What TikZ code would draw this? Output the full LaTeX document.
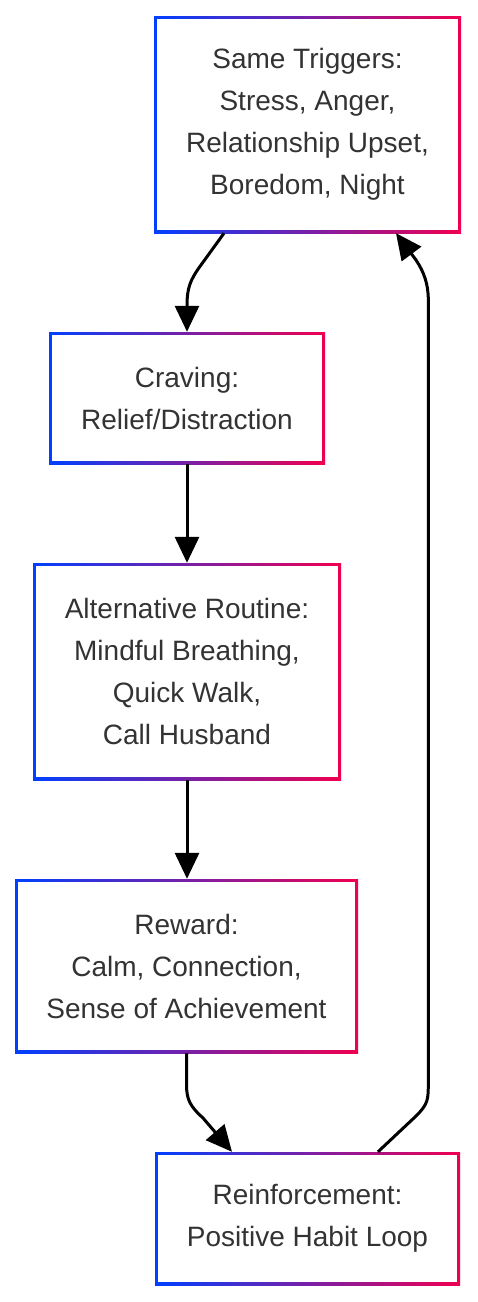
\documentclass[tikz,border=0pt]{standalone}
\usepackage{fontspec}
\setmainfont{Liberation Sans}
\usetikzlibrary{arrows.meta}
\definecolor{bblue}{RGB}{0,64,255}
\definecolor{rred}{RGB}{240,0,80}
\definecolor{txt}{RGB}{51,51,51}
\tikzset{
  box/.style={rectangle, inner sep=0pt, left color=bblue, right color=rred,
    align=center, text=txt, font=\fontsize{28}{42}\selectfont,
    path picture={\fill[white] ([shift={(3pt,3pt)}]path picture bounding box.south west) rectangle ([shift={(-3pt,-3pt)}]path picture bounding box.north east);}},
  arr/.style={line width=3pt, -{Triangle[length=26pt,width=24pt]}}
}
\begin{document}
\begin{tikzpicture}[x=1pt,y=-1pt]
\useasboundingbox (0,0) rectangle (477,1302);
\fill[white] (0,0) rectangle (477,1302);
\node[box, minimum width=307pt, minimum height=217pt] (t) at (307.5,124.5) {Same Triggers:\\Stress, Anger,\\Relationship Upset,\\Boredom, Night};
\node[box, minimum width=276pt, minimum height=132pt] (c) at (187,398) {Craving:\\Relief/Distraction};
\node[box, minimum width=308pt, minimum height=217pt] (a) at (187,671.5) {Alternative Routine:\\Mindful Breathing,\\Quick Walk,\\Call Husband};
\node[box, minimum width=343pt, minimum height=174pt] (w) at (186.5,966) {Reward:\\Calm, Connection,\\Sense of Achievement};
\node[box, minimum width=305pt, minimum height=133pt] (r) at (307.5,1218.5) {Reinforcement:\\Positive Habit Loop};
\draw[arr] ([xshift=-83.5pt]t.south) -- (201,265) .. controls (190,280) and (187,288) .. (187,306) -- (c.north);
\draw[arr] (c.south) -- (a.north);
\draw[arr] (a.south) -- (a.south |- w.north);
\draw[arr] (w.south) -- (186.5,1084) .. controls (186.5,1100) and (190,1106) .. (203,1118) -- ([xshift=-75.5pt]r.north);
\draw[arr] ([xshift=70.5pt]r.north) -- (415,1117) .. controls (428.3,1104) and (428.3,1100) .. (428.3,1082) -- (428.3,300) .. controls (428.3,284) and (424,272) .. (416,260) -- ([xshift=88.5pt]t.south);
\end{tikzpicture}
\end{document}
